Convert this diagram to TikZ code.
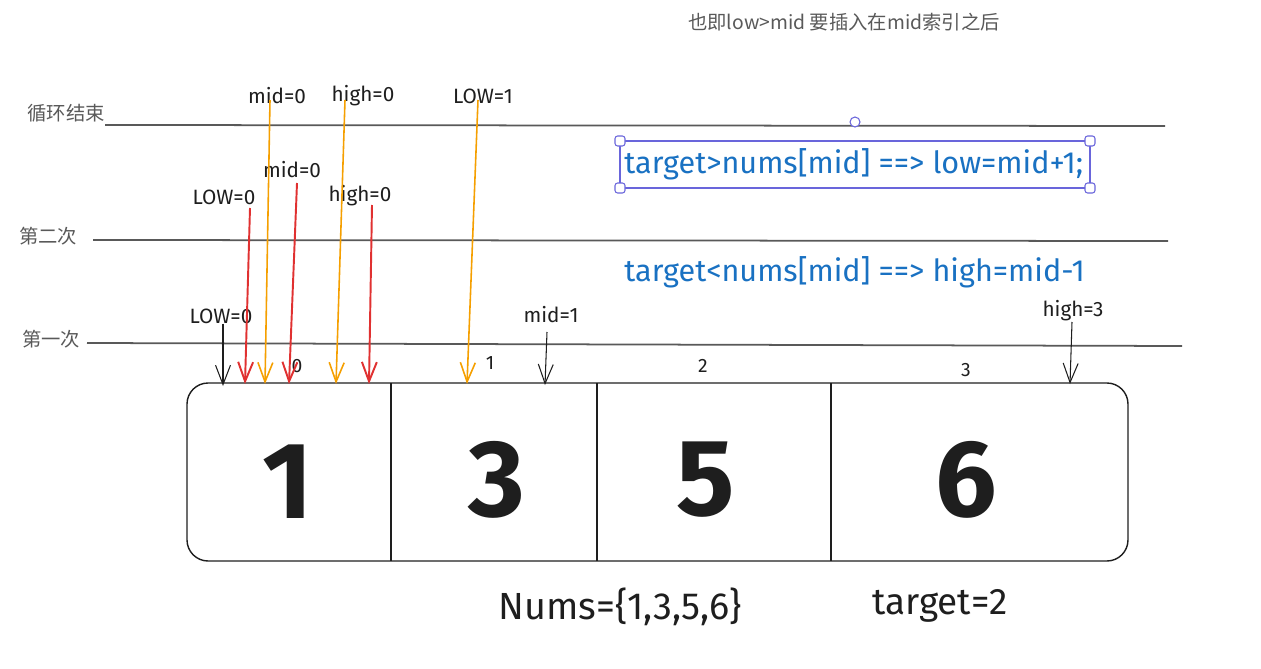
\documentclass[tikz,border=0pt]{standalone}
\usepackage{fontspec}
\setmainfont{Fira Sans}
\newfontfamily\cjk{Noto Sans CJK SC}
\usetikzlibrary{arrows.meta}
\definecolor{exred}{HTML}{E03131}
\definecolor{exorange}{HTML}{F59F00}
\definecolor{exblue}{HTML}{1971C2}
\definecolor{exsel}{HTML}{6965DB}
\definecolor{exink}{HTML}{1E1E1E}
\tikzstyle{every node}=[inner sep=0pt,text=exink]
\tikzstyle{lbl}=[font=\fontsize{11.8}{14}\selectfont]
\tikzstyle{pass}=[font=\cjk\fontsize{11}{13}\selectfont,text=black!65]
\tikzstyle{rule}=[draw=black!65,line width=1pt]
\tikzstyle{ptr}=[-{Straight Barb[length=11pt,width=8.5pt]},line width=0.6pt,draw=exink]
\tikzstyle{redptr}=[ptr,draw=exred,line width=1.1pt]
\tikzstyle{orangeptr}=[ptr,draw=exorange,line width=0.9pt]
\tikzstyle{cond}=[font=\fontsize{17.4}{20}\selectfont,text=exblue]
\tikzstyle{cell}=[font=\bfseries\fontsize{62}{70}\selectfont]
\tikzstyle{idx}=[font=\fontsize{11}{13}\selectfont]
\tikzstyle{handle}=[draw=exsel,fill=white,line width=0.6pt,rounded corners=1.5pt]

\begin{document}
\begin{tikzpicture}[x=0.02cm,y=-0.02cm]
  \useasboundingbox (0,0) rectangle (1261,669);
  % note at the top
  \node[pass] (note) at (844,22) {也即low>mid 要插入在mid索引之后};

  % the three passes
  \node[pass] (endp) at (66,113) {循环结束};
  \node[pass] (second) at (48,236) {第二次};
  \node[pass] (first) at (51,339) {第一次};
  \draw[rule] (105,125) -- (1165,126);
  \draw[rule] (93,240) -- (1168,241);
  \draw[rule] (87,343) -- (1182,346);

  % conditions
  \node[cond,anchor=west] (gt) at (624,164) {target>nums[mid] ==> low=mid+1;};
  \node[cond,anchor=west] (lt) at (624,272) {target<nums[mid] ==> high=mid-1};
  \draw[exsel,line width=0.6pt] (620,141) rectangle (1090,188);
  \foreach \hx/\hy in {620/141,1090/141,620/188,1090/188}
    \draw[handle] (\hx-5,\hy-5) rectangle (\hx+5,\hy+5);
  \draw[exsel,fill=white,line width=0.6pt] (855,122) circle (5);

  % the array
  \draw[exink,line width=0.8pt,rounded corners=12pt] (187,383) rectangle (1128,561);
  \draw[exink,line width=0.8pt] (391,383) -- (391,561);
  \draw[exink,line width=0.8pt] (597,383) -- (597,561);
  \draw[exink,line width=0.8pt] (831,383) -- (831,561);
  \node[cell] (v0) at (288,482) {1};
  \node[cell] (v1) at (497,480) {3};
  \node[cell] (v2) at (706,480) {5};
  \node[cell] (v3) at (966,480) {6};
  \node[idx] (i0) at (297,366) {0};
  \node[idx] (i1) at (490,363) {1};
  \node[idx] (i2) at (703,366) {2};
  \node[idx] (i3) at (966,370) {3};

  % first pass
  \node[lbl] (low1) at (221,316) {LOW=0};
  \node[lbl] (mid1) at (551,315) {mid=1};
  \node[lbl] (high1) at (1073,311) {high=3};
  \coordinate (low1e) at (223,386);
  \coordinate (mid1e) at (545,385);
  \coordinate (high1e) at (1070,384);
  \draw[ptr] (low1.south -| low1e) -- (low1e);
  \draw[ptr] (547,332) -- (mid1e);
  \draw[ptr] (1072,322) -- (high1e);

  % second pass
  \node[lbl] (low2) at (224,197) {LOW=0};
  \node[lbl] (mid2) at (292,170) {mid=0};
  \node[lbl] (high2) at (360,196) {high=0};
  \coordinate (low2s) at (250,208);
  \coordinate (mid2s) at (297,183);
  \coordinate (high2s) at (372,205);
  \coordinate (low2e) at (245,384);
  \coordinate (mid2e) at (289,384);
  \coordinate (high2e) at (369,384);
  \draw[redptr] (low2s) -- (low2e);
  \draw[redptr] (mid2s) -- (mid2e);
  \draw[redptr] (high2s) -- (high2e);

  % end of loop
  \node[lbl] (mid3) at (277,96) {mid=0};
  \node[lbl] (high3) at (363,96) {high=0};
  \node[lbl] (low3) at (483,96) {LOW=1};
  \coordinate (mid3s) at (270,100);
  \coordinate (high3s) at (345,100);
  \coordinate (low3s) at (478,100);
  \coordinate (mid3e) at (265,384);
  \coordinate (high3e) at (336,384);
  \coordinate (low3e) at (467,384);
  \draw[orangeptr] (mid3s) -- (mid3e);
  \draw[orangeptr] (high3s) -- (high3e);
  \draw[orangeptr] (low3s) -- (low3e);

  % data
  \node[font=\fontsize{21.5}{25}\selectfont] (nums) at (620,607) {Nums=\{1,3,5,6\}};
  \node[font=\fontsize{21}{25}\selectfont] (target) at (940,606) {target=2};
\end{tikzpicture}
\end{document}
